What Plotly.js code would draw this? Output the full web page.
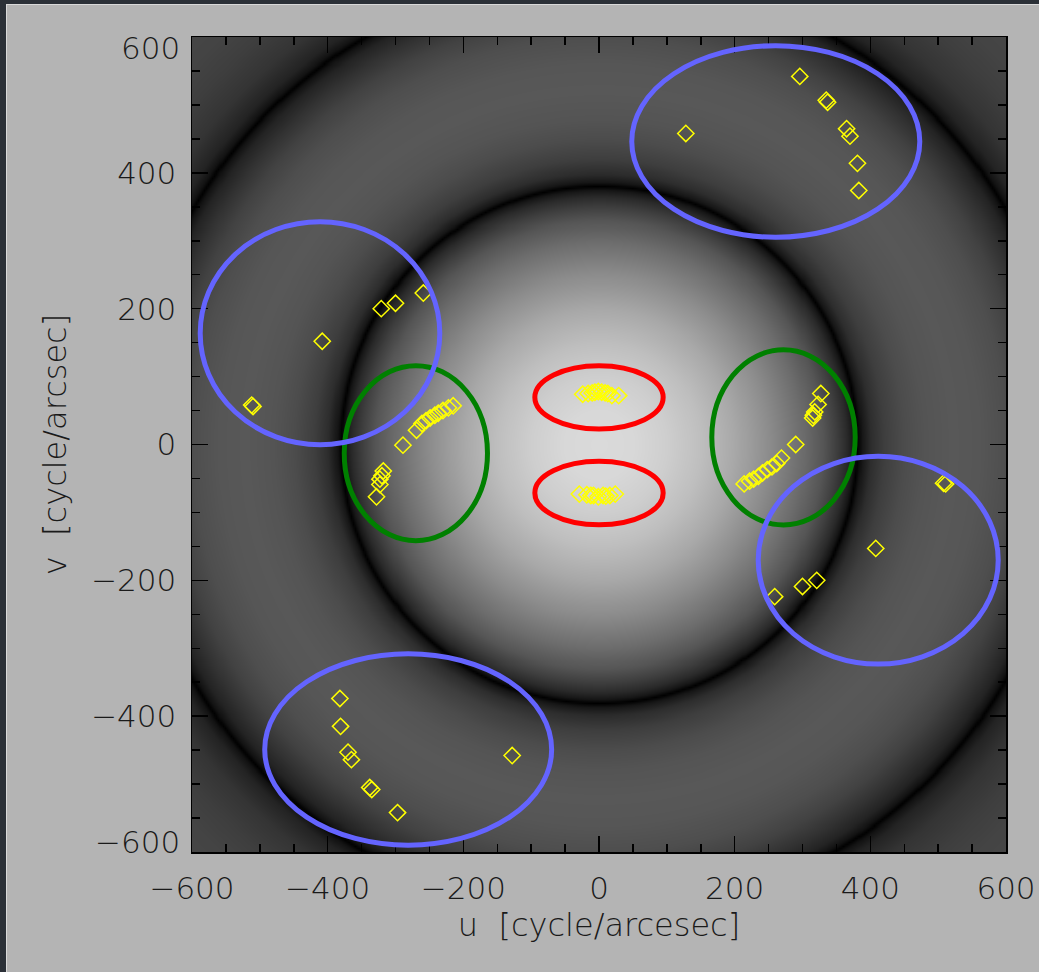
<!DOCTYPE html>
<html>
<head>
<meta charset="utf-8">
<script src="https://cdn.plot.ly/plotly-3.0.1.min.js"></script>
<style>
  html, body { margin: 0; padding: 0; background: #2b3037; width: 1039px; height: 972px; overflow: hidden; }
  #plot { position: absolute; left: 6px; top: 4px; width: 1032px; height: 967px;
          border-left: 1px solid #d9d9d9; border-top: 1px solid #d9d9d9; }
</style>
</head>
<body>
<div id="plot"></div>
<script>
// ---------------- data ----------------
// (u, v) sampling points, grouped by the ellipse that encloses them
const uBlueTR = [128, 296, 335, 337, 365, 370, 381, 383];
const vBlueTR = [458, 542, 507, 504, 465, 454, 414, 374];
const uBlueBL = [-128, -297, -338, -335, -370, -365, -381, -382];
const vBlueBL = [-458, -542, -505, -508, -453, -464, -415, -374];
const uBlueL = [-510, -512, -408, -321, -300, -259];
const vBlueL = [56, 58, 152, 200, 208, 223];
const uBlueR = [508, 511, 408, 321, 300, 259];
const vBlueR = [-57, -58, -153, -200, -209, -224];
const uGreenR = [214, 222, 228, 235, 241, 248, 255, 262, 269, 290, 315, 316, 318, 323, 327];
const vGreenR = [-58, -54, -51, -47, -42, -37, -33, -28, -20, 0, 39, 43, 48, 59, 75];
const uGreenL = [-215, -222, -230, -237, -242, -249, -255, -261, -269, -289, -318, -320, -323, -323, -328];
const vGreenL = [57, 54, 50, 46, 43, 39, 35, 31, 21, -1, -39, -46, -51, -59, -77];
const uRedUp = [-24, -16, -10, -6, -1, 4, 9, 13, 19, 29];
const vRedUp = [74, 75, 76, 77, 78, 77, 76, 75, 72, 72];
const uRedLo = [-29, -18, -12, -8, -1, 6, 10, 16, 24];
const vRedLo = [-73, -74, -75, -75, -77, -75, -76, -75, -73];

// ellipses: centre (u, v), semi-axes (a along u, b along v)
const ellipseU = [0, 0, -270, 272, 260.6, -281.3, -411.3, 411.6];
const ellipseV = [69.5, -71.4, -12.8, 10.5, 446.2, -449, 163.9, -170.3];
const ellipseA = [94.6, 94.6, 105.6, 105.7, 212.3, 211.5, 176.6, 176.9];
const ellipseB = [46.6, 46.7, 128.9, 129.0, 141.0, 140.9, 164.2, 153.0];
const ellipseColor = ['rgb(255,0,0)', 'rgb(255,0,0)', 'rgb(0,128,0)', 'rgb(0,128,0)',
                      'rgb(100,100,255)', 'rgb(100,100,255)', 'rgb(100,100,255)', 'rgb(100,100,255)'];

// background: grey level (0-255) read along a radius from the centre
const profileR     = [0, 50, 100, 150, 200, 250, 300, 330, 350, 365, 375, 381, 387, 400, 420, 450, 480, 520, 560, 600, 630, 655, 675, 686, 692, 698, 710, 740, 780, 820, 870];
const profileLevel = [218, 216, 206, 190, 168, 140, 108, 85, 62, 42, 22, 0, 22, 45, 62, 76, 84, 88, 86, 78, 66, 50, 35, 18, 0, 18, 35, 52, 62, 68, 70];

const xTickVals = [-600, -400, -200, 0, 200, 400, 600];
const xTickText = ['\u2212600', '\u2212400', '\u2212200', '0', '200', '400', '600'];
const yTickVals = [-400, -200, 0, 200, 400];
const yTickText = ['\u2212400', '\u2212200', '0', '200', '400'];

// ---------------- build ----------------
function levelAt(r) {
  for (let i = 1; i < profileR.length; i++) {
    if (r <= profileR[i]) {
      const t = (r - profileR[i - 1]) / (profileR[i] - profileR[i - 1]);
      return profileLevel[i - 1] + t * (profileLevel[i] - profileLevel[i - 1]);
    }
  }
  return profileLevel[profileLevel.length - 1];
}
const step = 3, n = Math.round(1200 / step) + 1;
const z = [];
for (let j = 0; j < n; j++) {
  const row = [], v = -600 + j * step;
  for (let i = 0; i < n; i++) {
    const u = -600 + i * step;
    row.push(levelAt(Math.sqrt(u * u + v * v)));
  }
  z.push(row);
}

const bg = {
  type: 'heatmap', z: z, x0: -600, dx: step, y0: -600, dy: step,
  zmin: 0, zmax: 255, zsmooth: 'best', showscale: false, hoverinfo: 'skip',
  colorscale: [[0, 'rgb(0,0,0)'], [1, 'rgb(255,255,255)']]
};
const pts = {
  type: 'scatter', mode: 'markers',
  x: [].concat(uBlueTR, uBlueBL, uBlueL, uBlueR, uGreenR, uGreenL, uRedUp, uRedLo),
  y: [].concat(vBlueTR, vBlueBL, vBlueL, vBlueR, vGreenR, vGreenL, vRedUp, vRedLo),
  marker: { symbol: 'diamond-open', size: 12.5, color: 'rgb(255,255,0)', line: { width: 1.5, color: 'rgb(255,255,0)' } },
  hoverinfo: 'x+y', showlegend: false
};

const shapes = ellipseU.map((cu, k) => ({
  type: 'circle', xref: 'x', yref: 'y', layer: 'above',
  x0: cu - ellipseA[k], x1: cu + ellipseA[k],
  y0: ellipseV[k] - ellipseB[k], y1: ellipseV[k] + ellipseB[k],
  line: { color: ellipseColor[k], width: 5 }
}));

const tickFont = { family: '"DejaVu Sans", sans-serif', size: 31, color: '#1a1a1a', weight: 200 };
const titleFont = { family: '"DejaVu Sans", sans-serif', size: 32, color: '#1a1a1a', weight: 200 };
const axisCommon = {
  range: [-600, 600], autorange: false, fixedrange: true,
  showgrid: false, zeroline: false,
  showline: true, linecolor: '#000', linewidth: 1.5, mirror: 'ticks',
  ticks: 'inside', ticklen: 16, tickwidth: 1.5, tickcolor: '#000',
  minor: { dtick: 50, tick0: 0, ticks: 'inside', ticklen: 8, tickwidth: 1.5, tickcolor: '#000', showgrid: false },
  tickfont: tickFont, tickmode: 'array'
};

const layout = {
  width: 1032, height: 967,
  margin: { l: 185, r: 33, t: 32, b: 120 },
  paper_bgcolor: 'rgb(180,180,180)', plot_bgcolor: 'rgb(60,60,60)',
  showlegend: false,
  xaxis: Object.assign({}, axisCommon, {
    tickvals: xTickVals, ticktext: xTickText,
    ticklabelstandoff: 8,
    title: { text: 'u  [cycle/arcesec]', font: titleFont, standoff: 5 }
  }),
  yaxis: Object.assign({}, axisCommon, {
    tickvals: yTickVals, ticktext: yTickText,
    ticklabelstandoff: 8,
    title: { text: 'v  [cycle/arcsec]', font: titleFont, standoff: 15 }
  }),
  annotations: [
    { xref: 'paper', yref: 'y', x: 0, y: 600, text: '600', showarrow: false, xanchor: 'right', yanchor: 'middle', xshift: -10, yshift: -11, font: tickFont },
    { xref: 'paper', yref: 'y', x: 0, y: -600, text: '\u2212600', showarrow: false, xanchor: 'right', yanchor: 'middle', xshift: -10, yshift: 10, font: tickFont }
  ],
  shapes: shapes
};

Plotly.newPlot('plot', [bg, pts], layout, { staticPlot: true, displayModeBar: false });
</script>
</body>
</html>
